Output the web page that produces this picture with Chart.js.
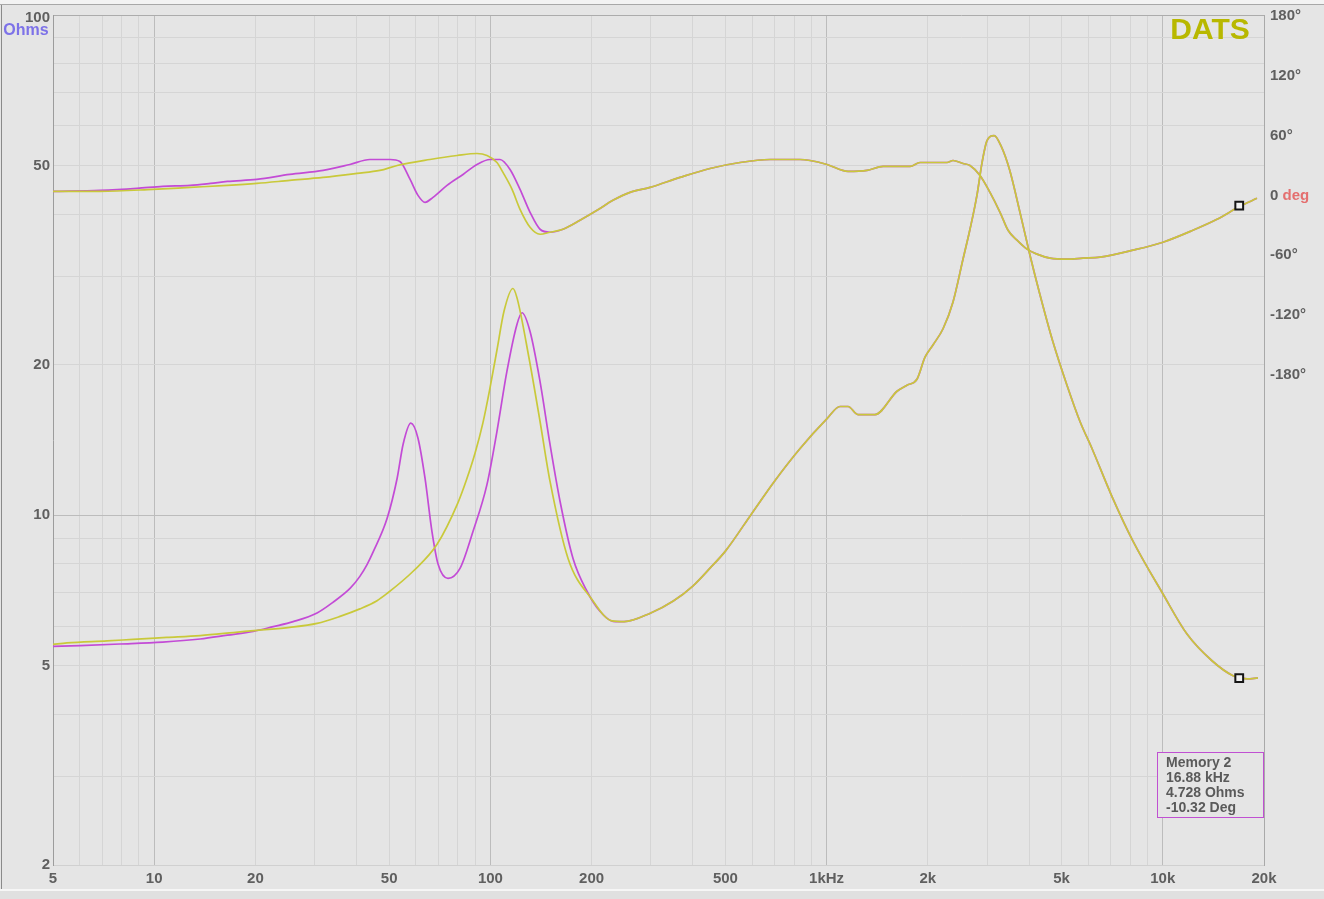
<!DOCTYPE html>
<html>
<head>
<meta charset="utf-8">
<title>DATS impedance sweep</title>
<script src="https://cdn.jsdelivr.net/npm/chart.js@4.4.1/dist/chart.umd.min.js"></script>
<style>
  html, body { margin: 0; padding: 0; background: #e5e5e5; overflow: hidden; }
  canvas { display: block; }
</style>
</head>
<body>
<canvas id="chart" width="1324" height="899"></canvas>
<script>
/* ---- impedance (Ohms), low end where the two sweeps differ ---- */
const curZFreq = [5, 5.5, 7.24, 8.65, 10.9, 13.7, 17.2, 20.2, 25.3, 30.5, 35.7, 40.9, 46.0, 49.3, 58.9, 69.4, 80.1, 85.0, 90.0, 95.0, 99.7, 104.6, 109.8, 116.7, 120.0, 130.3, 140.5, 150.4, 170.2, 200.5, 230];
const curZ     = [5.52, 5.56, 5.61, 5.65, 5.70, 5.75, 5.83, 5.89, 5.97, 6.08, 6.28, 6.50, 6.75, 6.98, 7.73, 8.75, 10.6, 11.8, 13.3, 15.3, 17.95, 21.4, 25.6, 28.4, 27.2, 20.6, 15.4, 11.7, 8.2, 6.79, 6.15];

const memZFreq = [5, 6.02, 7.91, 10.6, 13.7, 16.5, 19.7, 22.6, 25.9, 30.5, 34.0, 38.3, 40.9, 43.0, 44.8, 49.3, 52.8, 55.0, 58.0, 60.9, 63.9, 67.0, 69.9, 74.8, 81.2, 88.8, 97.7, 104.6, 112.0, 120.0, 124.2, 131.2, 140.5, 150.4, 161.1, 176.1, 193.8, 211.8, 231.5];
const memZ     = [5.47, 5.49, 5.53, 5.58, 5.66, 5.76, 5.86, 5.99, 6.13, 6.38, 6.70, 7.15, 7.55, 7.98, 8.45, 9.86, 11.86, 13.87, 15.28, 14.26, 11.86, 9.29, 7.98, 7.48, 7.83, 9.29, 11.53, 14.72, 19.41, 24.1, 25.4, 23.3, 18.5, 13.87, 10.67, 8.2, 7.05, 6.43, 6.14];

// above ~250 Hz both sweeps sit on top of each other
const tailZFreq = [250, 300, 350, 400, 450, 500, 600, 700, 834, 1003, 1096, 1158, 1240, 1393, 1620, 1734, 1857, 1962, 2072, 2220, 2377, 2545, 2670, 2800, 2900, 3000, 3150, 3300, 3500, 3761, 4027, 4312, 4714, 5188, 5672, 6157, 7062, 8153, 10014, 11803, 14008, 16175, 17800, 19190];
const tailZ     = [6.13, 6.38, 6.74, 7.22, 7.84, 8.48, 10.1, 11.7, 13.6, 15.6, 16.5, 16.5, 15.9, 15.9, 17.7, 18.2, 18.7, 20.7, 21.9, 23.6, 26.7, 32.5, 37.3, 43.6, 50.7, 56.1, 57.4, 54.8, 49.1, 40.3, 33.1, 27.6, 22.2, 18.2, 15.4, 13.6, 10.9, 8.88, 6.96, 5.79, 5.12, 4.78, 4.71, 4.73];

/* ---- phase (degrees) ---- */
const curPFreq = [5, 6.9, 9.92, 12.8, 16.5, 20.2, 25.3, 31.8, 40.1, 46.9, 52.8, 66.1, 79.6, 91.2, 97.7, 104.6, 109.0, 116.0, 122.5, 131.2, 140.5, 150.4, 164.4, 184.7, 207.6, 231.5];
const curP     = [4, 4, 6, 8, 10, 12, 15, 18, 22, 25, 30, 36, 40, 42, 40, 33, 23, 6, -14, -32, -39, -37, -34, -25, -15, -5];

const memPFreq = [5, 6.9, 8.89, 10.6, 12.8, 14.7, 16.5, 20.2, 25.3, 31.8, 38.2, 43.8, 50.3, 53.8, 57.7, 60.9, 63.9, 67.5, 74.3, 82.9, 91.2, 99.7, 106.8, 114.4, 122.5, 131.2, 140.5, 150.4, 164.4, 184.7, 207.6, 231.5];
const memP     = [4, 5, 7, 9, 10, 12, 14, 16, 21, 25, 31, 36, 36, 34, 16, 0, -7, -2, 10, 21, 31, 36, 36, 26, 6, -17, -34, -37, -34, -25, -15, -5];

const tailPFreq = [260.2, 298.4, 366.4, 450.1, 552.6, 678.8, 833.6, 893, 1003, 1158, 1319, 1472, 1771, 1896, 2281, 2377, 2545, 2670, 2860, 3062, 3280, 3465, 3684, 3946, 4225, 4618, 5188, 5788, 6505, 8153, 10014, 12295, 14497, 16968, 19060];
const tailP     = [3, 8, 18, 27, 33, 36, 36, 35, 31, 24, 25, 29, 29, 33, 33, 35, 32, 30, 20, 3, -17, -35, -45, -54, -59, -63, -64, -63, -62, -55, -47, -35, -24, -11, -3];

/* ---- cursor readout ---- */
const markerFreq = 16880;
const markerOhms = 4.728;
const markerDeg = -10.32;
const markerLines = ['Memory 2', '16.88 kHz', '4.728 Ohms', '-10.32 Deg'];

/* ---- axes ---- */
const xLabelValues = [5, 10, 20, 50, 100, 200, 500, 1000, 2000, 5000, 10000, 20000];
const xLabelTexts  = ['5', '10', '20', '50', '100', '200', '500', '1kHz', '2k', '5k', '10k', '20k'];
const ohmLabelValues = [2, 5, 10, 20, 50];
const ohmLabelTexts  = ['2', '5', '10', '20', '50'];
const phaseTicks = [-180, -120, -60, 0, 60, 120, 180];

const xGrid = [];
[1, 10, 100, 1000, 10000].forEach(d => {
  for (let m = 1; m <= 9; m++) {
    const v = d * m;
    if (v >= 5 && v <= 20000) xGrid.push(v);
  }
});
const ohmGrid = [2, 3, 4, 5, 6, 7, 8, 9, 10, 20, 30, 40, 50, 60, 70, 80, 90, 100];

const YELLOW = '#c9c93a';
const MAGENTA = '#c34bd6';
const TEXT = '#5f5f5f';
const FONT = { family: '"Liberation Sans", Arial, sans-serif', size: 15, weight: 'bold' };
const MINOR = '#d5d5d5';
const MAJOR = '#bcbcbc';

const toXY = (fs, vs) => fs.map((f, i) => ({ x: f, y: vs[i] }));
const lineSet = (data, color, axis) => ({
  data, yAxisID: axis, showLine: true, borderColor: color, borderWidth: 1.7,
  pointRadius: 0, fill: false, cubicInterpolationMode: 'monotone'
});
const markerSet = (y, axis) => ({
  data: [{ x: markerFreq, y }], yAxisID: axis, showLine: false, pointStyle: 'rect',
  pointRadius: 5.5, backgroundColor: '#f2f2f2', borderColor: '#151515', borderWidth: 2
});

/* ---- decorations drawn straight onto the canvas ---- */
const frame = {
  id: 'frame',
  beforeDraw(chart) {
    const ctx = chart.ctx;
    ctx.save();
    ctx.fillStyle = '#e5e5e5';
    ctx.fillRect(0, 0, chart.width, chart.height);
    ctx.fillStyle = '#f3f3f3';
    ctx.fillRect(0, 0, chart.width, 4);
    ctx.fillStyle = '#a8a8a8';
    ctx.fillRect(0, 4, chart.width, 1);
    ctx.fillStyle = '#8a8a8a';
    ctx.fillRect(1, 5, 1, 884);
    ctx.fillStyle = '#f6f6f6';
    ctx.fillRect(0, 889, chart.width, 2);
    ctx.fillStyle = '#e0e0e0';
    ctx.fillRect(0, 891, chart.width, 8);
    ctx.restore();
  },
  afterDraw(chart) {
    const ctx = chart.ctx;
    const area = chart.chartArea;
    const ph = chart.scales.y2;
    ctx.save();
    ctx.textBaseline = 'middle';

    // "100" and the Ohms unit on the left
    ctx.font = 'bold 15px "Liberation Sans", Arial, sans-serif';
    ctx.fillStyle = TEXT;
    ctx.textAlign = 'right';
    ctx.fillText('100', 50, 18);
    ctx.font = 'bold 16px "Liberation Sans", Arial, sans-serif';
    ctx.fillStyle = '#7d72e8';
    ctx.textAlign = 'center';
    ctx.fillText('Ohms', 26, 31);

    // "deg" after the 0 phase tick
    ctx.font = 'bold 15px "Liberation Sans", Arial, sans-serif';
    ctx.textAlign = 'left';
    const w0 = ctx.measureText('0 ').width;
    ctx.fillStyle = '#e46f6f';
    ctx.fillText('deg', ph.left + 6 + w0, ph.getPixelForValue(0));

    // DATS logo
    ctx.font = 'bold 30px "Liberation Sans", Arial, sans-serif';
    ctx.fillStyle = '#b8b800';
    ctx.textAlign = 'center';
    ctx.fillText('DATS', area.right - 54, 31);

    // cursor readout box
    const bx = 1157.5, by = 752.5, bw = 106, bh = 65;
    ctx.fillStyle = '#e5e5e5';
    ctx.fillRect(bx, by, bw, bh);
    ctx.strokeStyle = '#c050d2';
    ctx.lineWidth = 1;
    ctx.strokeRect(bx, by, bw, bh);
    ctx.font = 'bold 14px "Liberation Sans", Arial, sans-serif';
    ctx.fillStyle = '#5a5a5a';
    ctx.textAlign = 'left';
    markerLines.forEach((t, i) => ctx.fillText(t, 1166, 763 + i * 15));
    ctx.restore();
  }
};

new Chart(document.getElementById('chart'), {
  type: 'scatter',
  data: {
    datasets: [
      markerSet(markerOhms, 'y'),
      markerSet(markerDeg, 'y2'),
      lineSet(toXY(curZFreq.concat(tailZFreq), curZ.concat(tailZ)), YELLOW, 'y'),
      lineSet(toXY(curPFreq.concat(tailPFreq), curP.concat(tailP)), YELLOW, 'y2'),
      lineSet(toXY(memZFreq.concat(tailZFreq), memZ.concat(tailZ)), MAGENTA, 'y'),
      lineSet(toXY(memPFreq.concat(tailPFreq), memP.concat(tailP)), MAGENTA, 'y2')
    ]
  },
  options: {
    responsive: false,
    animation: false,
    layout: { padding: { top: 12, left: 0, right: 0, bottom: 0 } },
    plugins: { legend: { display: false }, tooltip: { enabled: false } },
    scales: {
      x: {
        type: 'logarithmic', min: 5, max: 20000,
        afterBuildTicks: s => { s.ticks = xGrid.map(v => ({ value: v })); },
        afterFit: s => { s.height = 34; },
        ticks: {
          autoSkip: false, maxRotation: 0, minRotation: 0, padding: 5,
          font: FONT, color: TEXT,
          callback: v => {
            const i = xLabelValues.indexOf(v);
            return i >= 0 ? xLabelTexts[i] : '';
          }
        },
        grid: {
          drawTicks: false,
          color: c => {
            const v = c.tick ? c.tick.value : 0;
            if (v === 5) return 'rgba(0,0,0,0)';
            if (v === 20000) return '#a9a9a9';
            return [10, 100, 1000, 10000].includes(v) ? MAJOR : MINOR;
          }
        },
        border: { color: '#d0d0d0' }
      },
      y: {
        type: 'logarithmic', position: 'left', min: 2, max: 100,
        afterBuildTicks: s => { s.ticks = ohmGrid.map(v => ({ value: v })); },
        afterFit: s => { s.width = 53; },
        ticks: {
          autoSkip: false, padding: 3, font: FONT, color: TEXT,
          callback: v => {
            const i = ohmLabelValues.indexOf(v);
            return i >= 0 ? ohmLabelTexts[i] : '';
          }
        },
        grid: {
          drawTicks: false,
          color: c => {
            const v = c.tick ? c.tick.value : 0;
            if (v === 100) return '#acacac';
            return v === 10 ? MAJOR : MINOR;
          }
        },
        border: { color: '#9c9c9c' }
      },
      y2: {
        type: 'linear', position: 'right', min: -672, max: 181,
        afterBuildTicks: s => { s.ticks = phaseTicks.map(v => ({ value: v })); },
        afterFit: s => { s.width = 60; },
        ticks: {
          autoSkip: false, padding: 6, font: FONT, color: TEXT,
          callback: v => (v === 0 ? '0' : v + '°')
        },
        grid: { display: false, drawTicks: false },
        border: { display: true, color: '#a9a9a9' }
      }
    }
  },
  plugins: [frame]
});
</script>
</body>
</html>
